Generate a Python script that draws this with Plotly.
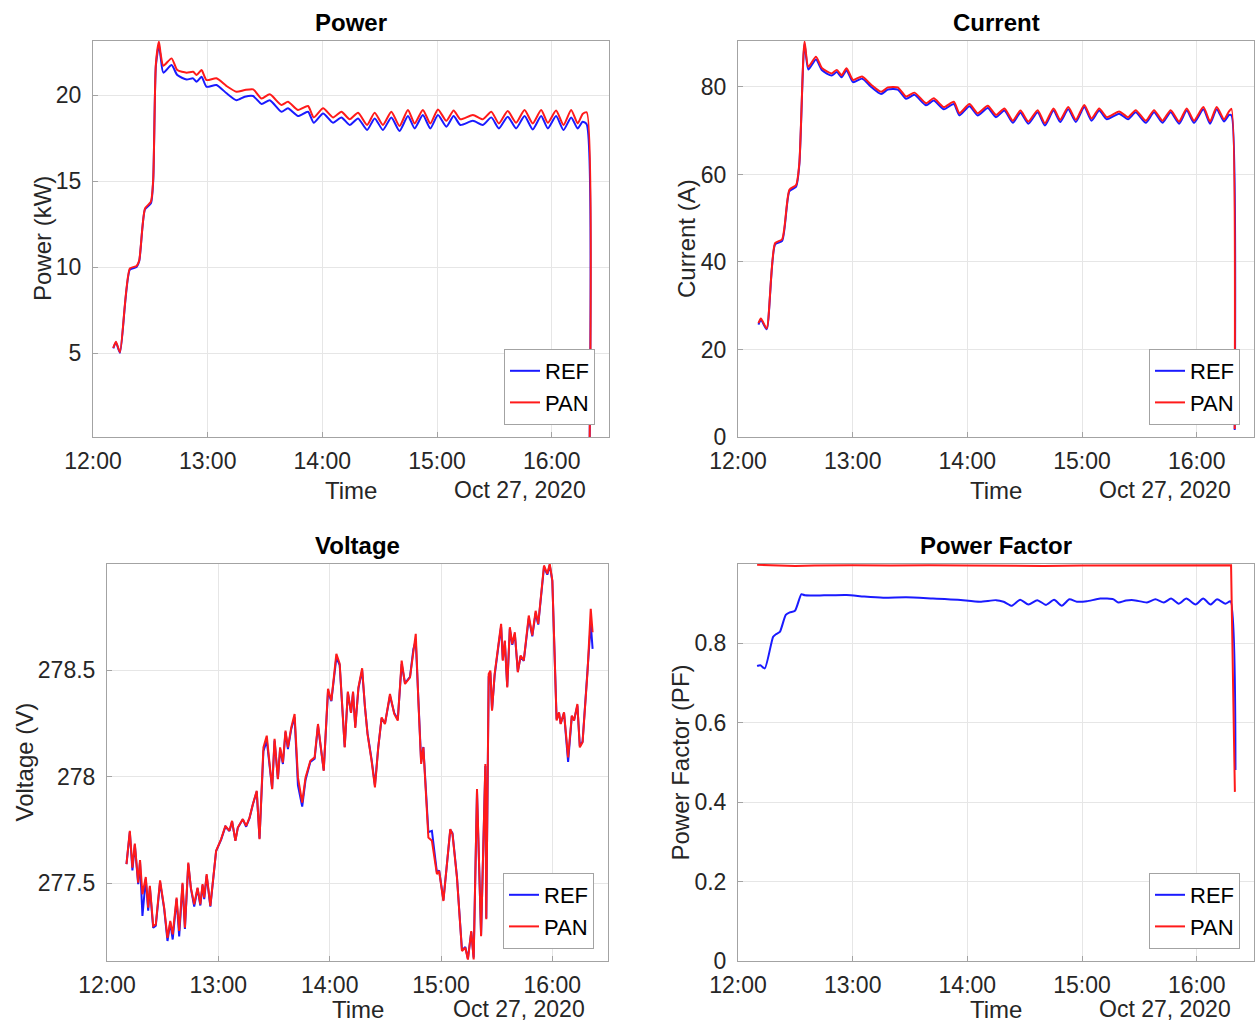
import pandas as pd
import plotly.graph_objects as go

# ---------------- DATA (minutes after 12:00 on Oct 27, 2020) ----------------
power_t = [10.6, 12.0, 14.1, 19.3, 22.8, 24.2, 27.2, 30.3, 31.5, 32.9,
           34.5, 35.4, 36.8, 41.1, 44.1, 49.0, 52.4, 54.2, 56.8, 59.4,
           64.6, 69.9, 75.1, 79.4, 83.8, 88.2, 92.5, 98.6, 102.0, 107.3,
           112.5, 115.5, 120.4, 125.6, 130.0, 134.3, 138.7, 143.4, 147.4, 151.7,
           156.1, 160.4, 164.8, 168.3, 172.6, 176.5, 180.5, 184.9, 188.7, 192.2,
           198.8, 204.0, 208.4, 212.4, 217.0, 221.4, 225.8, 230.1, 234.5, 238.0,
           242.3, 246.2, 250.2, 253.6, 256.2, 258.3, 259.9]
power_ref = [5.27, 5.62, 5.02, 9.85, 10.0, 10.35, 13.35, 13.7, 15.0, 21.7,
             22.9, 22.2, 21.3, 21.74, 21.16, 20.9, 20.97, 20.77, 21.06, 20.48,
             20.58, 20.1, 19.7, 19.9, 19.94, 19.48, 19.7, 19.03, 19.23, 18.78,
             19.03, 18.39, 18.93, 18.39, 18.7, 18.26, 18.64, 17.97, 18.64, 17.97,
             18.7, 17.91, 18.78, 18.06, 18.84, 18.06, 18.84, 18.16, 18.78, 18.26,
             18.5, 18.26, 18.7, 18.06, 18.74, 18.06, 18.78, 18.0, 18.78, 18.06,
             18.78, 17.97, 18.7, 18.06, 18.45, 18.3, 0.12]
power_pan = [5.3, 5.66, 5.05, 9.92, 10.06, 10.4, 13.4, 13.8, 15.1, 21.8,
             23.1, 22.4, 21.7, 22.13, 21.45, 21.3, 21.35, 21.16, 21.45, 20.87,
             20.97, 20.52, 20.19, 20.29, 20.33, 19.8, 20.04, 19.42, 19.61, 19.13,
             19.36, 18.7, 19.23, 18.7, 19.03, 18.59, 18.97, 18.26, 18.97, 18.26,
             19.03, 18.2, 19.13, 18.35, 19.13, 18.35, 19.16, 18.5, 19.1, 18.59,
             18.84, 18.59, 19.03, 18.35, 19.07, 18.39, 19.13, 18.35, 19.13, 18.39,
             19.1, 18.26, 19.13, 18.35, 18.9, 19.0, 0.12]

current_t = [10.7, 12.0, 15.0, 19.4, 23.1, 26.9, 30.4, 32.1, 34.8, 36.8,
             40.8, 44.0, 49.0, 51.7, 54.2, 56.8, 60.2, 64.9, 69.7, 74.9,
             78.4, 83.6, 88.0, 92.3, 98.4, 102.4, 107.7, 112.9, 115.9, 121.1,
             125.4, 130.7, 135.0, 139.4, 143.8, 147.8, 151.9, 156.8, 160.6, 165.1,
             168.6, 172.8, 176.8, 181.2, 185.0, 189.0, 193.0, 199.4, 204.1, 208.1,
             213.4, 217.7, 222.1, 226.4, 230.8, 234.8, 238.6, 243.5, 247.0, 250.5,
             254.3, 256.9, 258.2, 259.9]
current_ref = [25.7, 26.8, 24.6, 44.0, 44.8, 56.2, 57.2, 62.3, 89.9, 84.0,
               86.3, 83.8, 82.6, 83.4, 82.2, 83.8, 81.1, 81.9, 80.0, 78.4,
               79.4, 79.4, 77.3, 78.2, 75.8, 76.9, 74.9, 76.1, 73.5, 75.6,
               73.5, 75.2, 73.1, 74.6, 71.8, 74.1, 71.6, 74.2, 71.2, 74.6,
               72.0, 74.9, 72.0, 75.4, 72.3, 74.6, 72.6, 73.9, 72.6, 74.2,
               71.8, 74.2, 71.8, 74.2, 71.6, 74.6, 71.8, 74.9, 71.6, 74.9,
               72.1, 73.6, 73.5, 1.6]
current_pan = [26.0, 27.1, 24.8, 44.3, 45.2, 56.5, 57.6, 62.6, 90.4, 84.6,
               86.9, 84.3, 83.1, 83.9, 82.7, 84.3, 81.6, 82.4, 80.5, 78.9,
               79.9, 79.9, 77.8, 78.7, 76.3, 77.4, 75.4, 76.6, 74.0, 76.1,
               74.0, 75.7, 73.6, 75.1, 72.3, 74.6, 72.1, 74.7, 71.7, 75.1,
               72.5, 75.4, 72.5, 75.9, 72.8, 75.1, 73.1, 74.4, 73.1, 74.7,
               72.3, 74.7, 72.3, 74.7, 72.1, 75.1, 72.3, 75.4, 72.1, 75.4,
               72.6, 74.4, 75.0, 1.8]

voltage_t = [10.5, 12.3, 13.7, 15.0, 16.8, 17.8, 19.1, 20.9, 22.2, 23.1,
             24.9, 26.3, 28.6, 30.8, 32.6, 34.1, 35.4, 37.5, 38.9, 40.7,
             42.0, 43.8, 45.2, 47.0, 48.8, 50.3, 51.5, 52.4, 53.7, 55.7,
             58.8, 61.5, 63.8, 66.0, 67.4, 69.2, 70.5, 73.2, 75.0, 76.8,
             78.6, 80.7, 82.2, 84.3, 86.1, 87.6, 89.0, 90.3, 92.1, 93.3,
             94.8, 96.2, 97.5, 99.3, 101.1, 102.9, 105.2, 107.0, 109.6, 111.9,
             113.7, 116.8, 119.1, 120.9, 123.6, 125.4, 128.1, 129.8, 131.5, 132.6,
             133.8, 135.5, 137.5, 139.0, 140.4, 142.6, 144.4, 146.2, 148.0, 149.8,
             152.5, 154.8, 156.7, 158.8, 160.6, 163.3, 165.1, 166.4, 167.8, 169.3,
             170.5, 173.2, 175.1, 177.8, 179.0, 181.3, 185.0, 186.2, 188.6, 191.3,
             193.1, 194.5, 196.3, 197.6, 199.4, 201.6, 203.9, 204.4, 205.7, 206.6,
             207.5, 208.9, 211.1, 212.4, 213.3, 214.4, 215.7, 217.1, 218.4, 219.8,
             221.4, 222.9, 224.6, 225.9, 227.3, 229.2, 231.0, 232.4, 235.5, 237.3,
             238.6, 240.0, 242.3, 243.6, 244.5, 246.3, 248.5, 250.5, 251.7, 253.5,
             254.8, 256.3, 259.0, 260.7, 261.7]
voltage_pan = [277.589, 277.746, 277.573, 277.686, 277.502, 277.608, 277.448, 277.529, 277.385, 277.487,
               277.298, 277.306, 277.513, 277.385, 277.243, 277.322, 277.259, 277.432, 277.275, 277.502,
               277.290, 277.597, 277.479, 277.400, 277.479, 277.400, 277.495, 277.432, 277.542, 277.393,
               277.652, 277.707, 277.769, 277.746, 277.793, 277.699, 277.761, 277.801, 277.769, 277.808,
               277.871, 277.934, 277.707, 278.138, 278.193, 278.075, 277.942, 278.178, 277.989, 278.138,
               278.067, 278.217, 278.138, 278.232, 278.295, 277.997, 277.879, 277.997, 278.075, 278.091,
               278.248, 278.028, 278.413, 278.358, 278.578, 278.531, 278.138, 278.400, 278.300, 278.400,
               278.230, 278.420, 278.510, 278.330, 278.200, 278.075, 277.950, 278.138, 278.279, 278.248,
               278.389, 278.295, 278.264, 278.546, 278.436, 278.467, 278.593, 278.672, 278.358, 278.060,
               278.138, 277.714, 277.699, 277.542, 277.557, 277.416, 277.754, 277.730, 277.526, 277.181,
               277.196, 277.141, 277.275, 277.141, 277.942, 277.251, 278.060, 277.330, 278.483, 278.499,
               278.311, 278.483, 278.632, 278.719, 278.546, 278.640, 278.420, 278.703, 278.624, 278.679,
               278.491, 278.570, 278.546, 278.640, 278.758, 278.664, 278.780, 278.719, 278.993, 278.954,
               279.000, 278.923, 278.264, 278.303, 278.248, 278.303, 278.091, 278.287, 278.264, 278.342,
               278.138, 278.162, 278.499, 278.789, 278.679]
voltage_ref = [277.589, 277.740, 277.560, 277.680, 277.495, 277.600, 277.346, 277.520, 277.370, 277.480,
               277.290, 277.300, 277.505, 277.380, 277.228, 277.315, 277.235, 277.425, 277.250, 277.495,
               277.285, 277.590, 277.475, 277.390, 277.475, 277.395, 277.490, 277.425, 277.535, 277.390,
               277.650, 277.705, 277.765, 277.745, 277.790, 277.700, 277.760, 277.800, 277.765, 277.805,
               277.870, 277.930, 277.710, 278.120, 278.170, 278.060, 277.945, 278.170, 277.990, 278.130,
               278.060, 278.210, 278.130, 278.225, 278.280, 277.960, 277.860, 277.985, 278.070, 278.085,
               278.240, 278.030, 278.400, 278.355, 278.560, 278.525, 278.140, 278.395, 278.300, 278.395,
               278.235, 278.415, 278.500, 278.330, 278.205, 278.080, 277.960, 278.140, 278.275, 278.250,
               278.380, 278.300, 278.270, 278.530, 278.440, 278.470, 278.600, 278.640, 278.360, 278.070,
               278.140, 277.740, 277.746, 277.550, 277.560, 277.420, 277.750, 277.735, 277.530, 277.185,
               277.200, 277.145, 277.270, 277.150, 277.930, 277.255, 278.050, 277.335, 278.470, 278.490,
               278.315, 278.475, 278.625, 278.705, 278.550, 278.635, 278.425, 278.695, 278.620, 278.670,
               278.495, 278.565, 278.545, 278.635, 278.745, 278.660, 278.770, 278.715, 278.985, 278.950,
               278.995, 278.920, 278.270, 278.300, 278.250, 278.300, 278.070, 278.285, 278.265, 278.335,
               278.145, 278.165, 278.480, 278.720, 278.601]

pf_ref_t = [10.0, 11.7, 14.0, 18.4, 19.8, 21.9, 25.0, 27.1, 29.8, 33.2,
            35.0, 45.0, 56.8, 66.0, 76.0, 88.0, 102.0, 115.0, 126.6, 135.0,
            139.0, 143.3, 147.6, 152.0, 156.6, 161.2, 165.4, 169.4, 173.4, 177.3,
            182.5, 189.5, 196.5, 199.0, 203.0, 207.0, 214.0, 218.4, 222.8, 226.6,
            230.6, 234.6, 239.4, 243.4, 247.2, 250.7, 255.1, 257.7, 260.3]
pf_ref = [0.743, 0.745, 0.737, 0.817, 0.823, 0.829, 0.872, 0.878, 0.882, 0.924,
          0.921, 0.921, 0.922, 0.918, 0.915, 0.916, 0.913, 0.910, 0.905, 0.909,
          0.905, 0.895, 0.910, 0.898, 0.909, 0.897, 0.910, 0.895, 0.911, 0.905,
          0.906, 0.913, 0.911, 0.903, 0.908, 0.909, 0.903, 0.911, 0.903, 0.913,
          0.900, 0.913, 0.898, 0.913, 0.898, 0.911, 0.900, 0.906, 0.481]
pf_pan_t = [10.0, 20.0, 30.0, 40.0, 60.0, 80.0, 100.0, 120.0, 140.0, 160.0,
            180.0, 200.0, 220.0, 240.0, 258.0, 260.0]
pf_pan = [0.998, 0.996, 0.995, 0.996, 0.997, 0.996, 0.997, 0.996, 0.995, 0.995,
          0.996, 0.996, 0.997, 0.996, 0.997, 0.426]

# ---------------- HELPERS ----------------
BASE = pd.Timestamp("2020-10-27 12:00:00")


def to_time(mins):
    return [BASE + pd.Timedelta(minutes=m) for m in mins]


W, H = 1257, 1024


def px(x):
    return x / W


def py(y):
    return 1 - y / H


FONT = "Liberation Sans, Arial, Helvetica, sans-serif"
TXT = "#262626"
BLUE = "#1a1aff"
RED = "#ff1a1a"

panels = [
    dict(title="Power", ylabel="Power (kW)", box=(93, 41, 609, 437),
         ref=(power_t, power_ref), pan=(power_t, power_pan), shapes=("spline", "spline"),
         yrange=[0.12, 23.14], ytick=[5, 10, 15, 20], ytext=["5", "10", "15", "20"],
         ylab_x=42, time_dy=53),
    dict(title="Current", ylabel="Current (A)", box=(738, 41, 1254, 437),
         ref=(current_t, current_ref), pan=(current_t, current_pan), shapes=("spline", "spline"),
         yrange=[0, 90.5], ytick=[0, 20, 40, 60, 80], ytext=["0", "20", "40", "60", "80"],
         ylab_x=686, time_dy=53),
    dict(title="Voltage", ylabel="Voltage (V)", box=(107, 564, 608, 961),
         ref=(voltage_t, voltage_ref), pan=(voltage_t, voltage_pan), shapes=("linear", "linear"),
         yrange=[277.134, 279.0], ytick=[277.5, 278, 278.5], ytext=["277.5", "278", "278.5"],
         ylab_x=24, time_dy=48),
    dict(title="Power Factor", ylabel="Power Factor (PF)", box=(738, 564, 1254, 961),
         ref=(pf_ref_t, pf_ref), pan=(pf_pan_t, pf_pan), shapes=("spline", "linear"),
         yrange=[0, 1.0], ytick=[0, 0.2, 0.4, 0.6, 0.8], ytext=["0", "0.2", "0.4", "0.6", "0.8"],
         ylab_x=680, time_dy=48),
]

fig = go.Figure()
annotations = []
hours = [BASE + pd.Timedelta(hours=h) for h in range(5)]
xr = [BASE, BASE + pd.Timedelta(minutes=270)]

for i, p in enumerate(panels, start=1):
    sfx = "" if i == 1 else str(i)
    lg = "legend" if i == 1 else f"legend{i}"
    x0, y0, x1, y1 = p["box"]
    for (tt, vv), nm, col, shp in ((p["ref"], "REF", BLUE, p["shapes"][0]),
                                   (p["pan"], "PAN", RED, p["shapes"][1])):
        line = dict(color=col, width=2, shape=shp)
        if shp == "spline":
            line["smoothing"] = 0.6
        fig.add_trace(go.Scatter(x=to_time(tt), y=vv, mode="lines", name=nm, line=line,
                                 xaxis=f"x{sfx}", yaxis=f"y{sfx}", legend=lg))
    axis_common = dict(showline=True, linecolor="#a3a3a3", linewidth=1, mirror=True,
                       ticks="inside", ticklen=5, tickcolor="#a3a3a3", showgrid=True,
                       gridcolor="#e6e6e6", gridwidth=1, zeroline=False, automargin=False,
                       tickfont=dict(family=FONT, size=23, color=TXT))
    fig.layout[f"xaxis{sfx}"] = dict(axis_common, type="date", range=xr, tickvals=hours,
                                     tickformat="%H:%M", domain=[px(x0), px(x1)],
                                     anchor=f"y{sfx}", ticklabelstandoff=3)
    fig.layout[f"yaxis{sfx}"] = dict(axis_common, range=p["yrange"], tickvals=p["ytick"],
                                     ticktext=p["ytext"], domain=[py(y1), py(y0)],
                                     anchor=f"x{sfx}", ticklabelstandoff=6)
    fig.layout[lg] = dict(x=px(x1 - 14), y=py(y1 - 12), xanchor="right", yanchor="bottom",
                          bgcolor="white", bordercolor="#a3a3a3", borderwidth=1,
                          font=dict(family=FONT, size=22, color="black"),
                          tracegroupgap=0, itemwidth=30)
    cx = (x0 + x1) / 2
    annotations.append(dict(text=f"<b>{p['title']}</b>", x=px(cx), y=py(y0 - 19),
                            xref="paper", yref="paper", xanchor="center", yanchor="middle",
                            showarrow=False, font=dict(family=FONT, size=24, color="black")))
    annotations.append(dict(text="Time", x=px(cx), y=py(y1 + p["time_dy"]), xref="paper",
                            yref="paper", xanchor="center", yanchor="middle", showarrow=False,
                            font=dict(family=FONT, size=24, color=TXT)))
    annotations.append(dict(text="Oct 27, 2020", x=px(x1 - 21), y=py(y1 + p["time_dy"]),
                            xref="paper", yref="paper", xanchor="right", yanchor="middle",
                            showarrow=False, font=dict(family=FONT, size=23, color=TXT)))
    annotations.append(dict(text=p["ylabel"], x=px(p["ylab_x"]), y=py((y0 + y1) / 2),
                            xref="paper", yref="paper", xanchor="center", yanchor="middle",
                            textangle=-90, showarrow=False,
                            font=dict(family=FONT, size=24, color=TXT)))

fig.update_layout(width=W, height=H, margin=dict(l=0, r=0, t=0, b=0),
                  paper_bgcolor="white", plot_bgcolor="white",
                  annotations=annotations, font=dict(family=FONT))

fig.write_html("out.html")
